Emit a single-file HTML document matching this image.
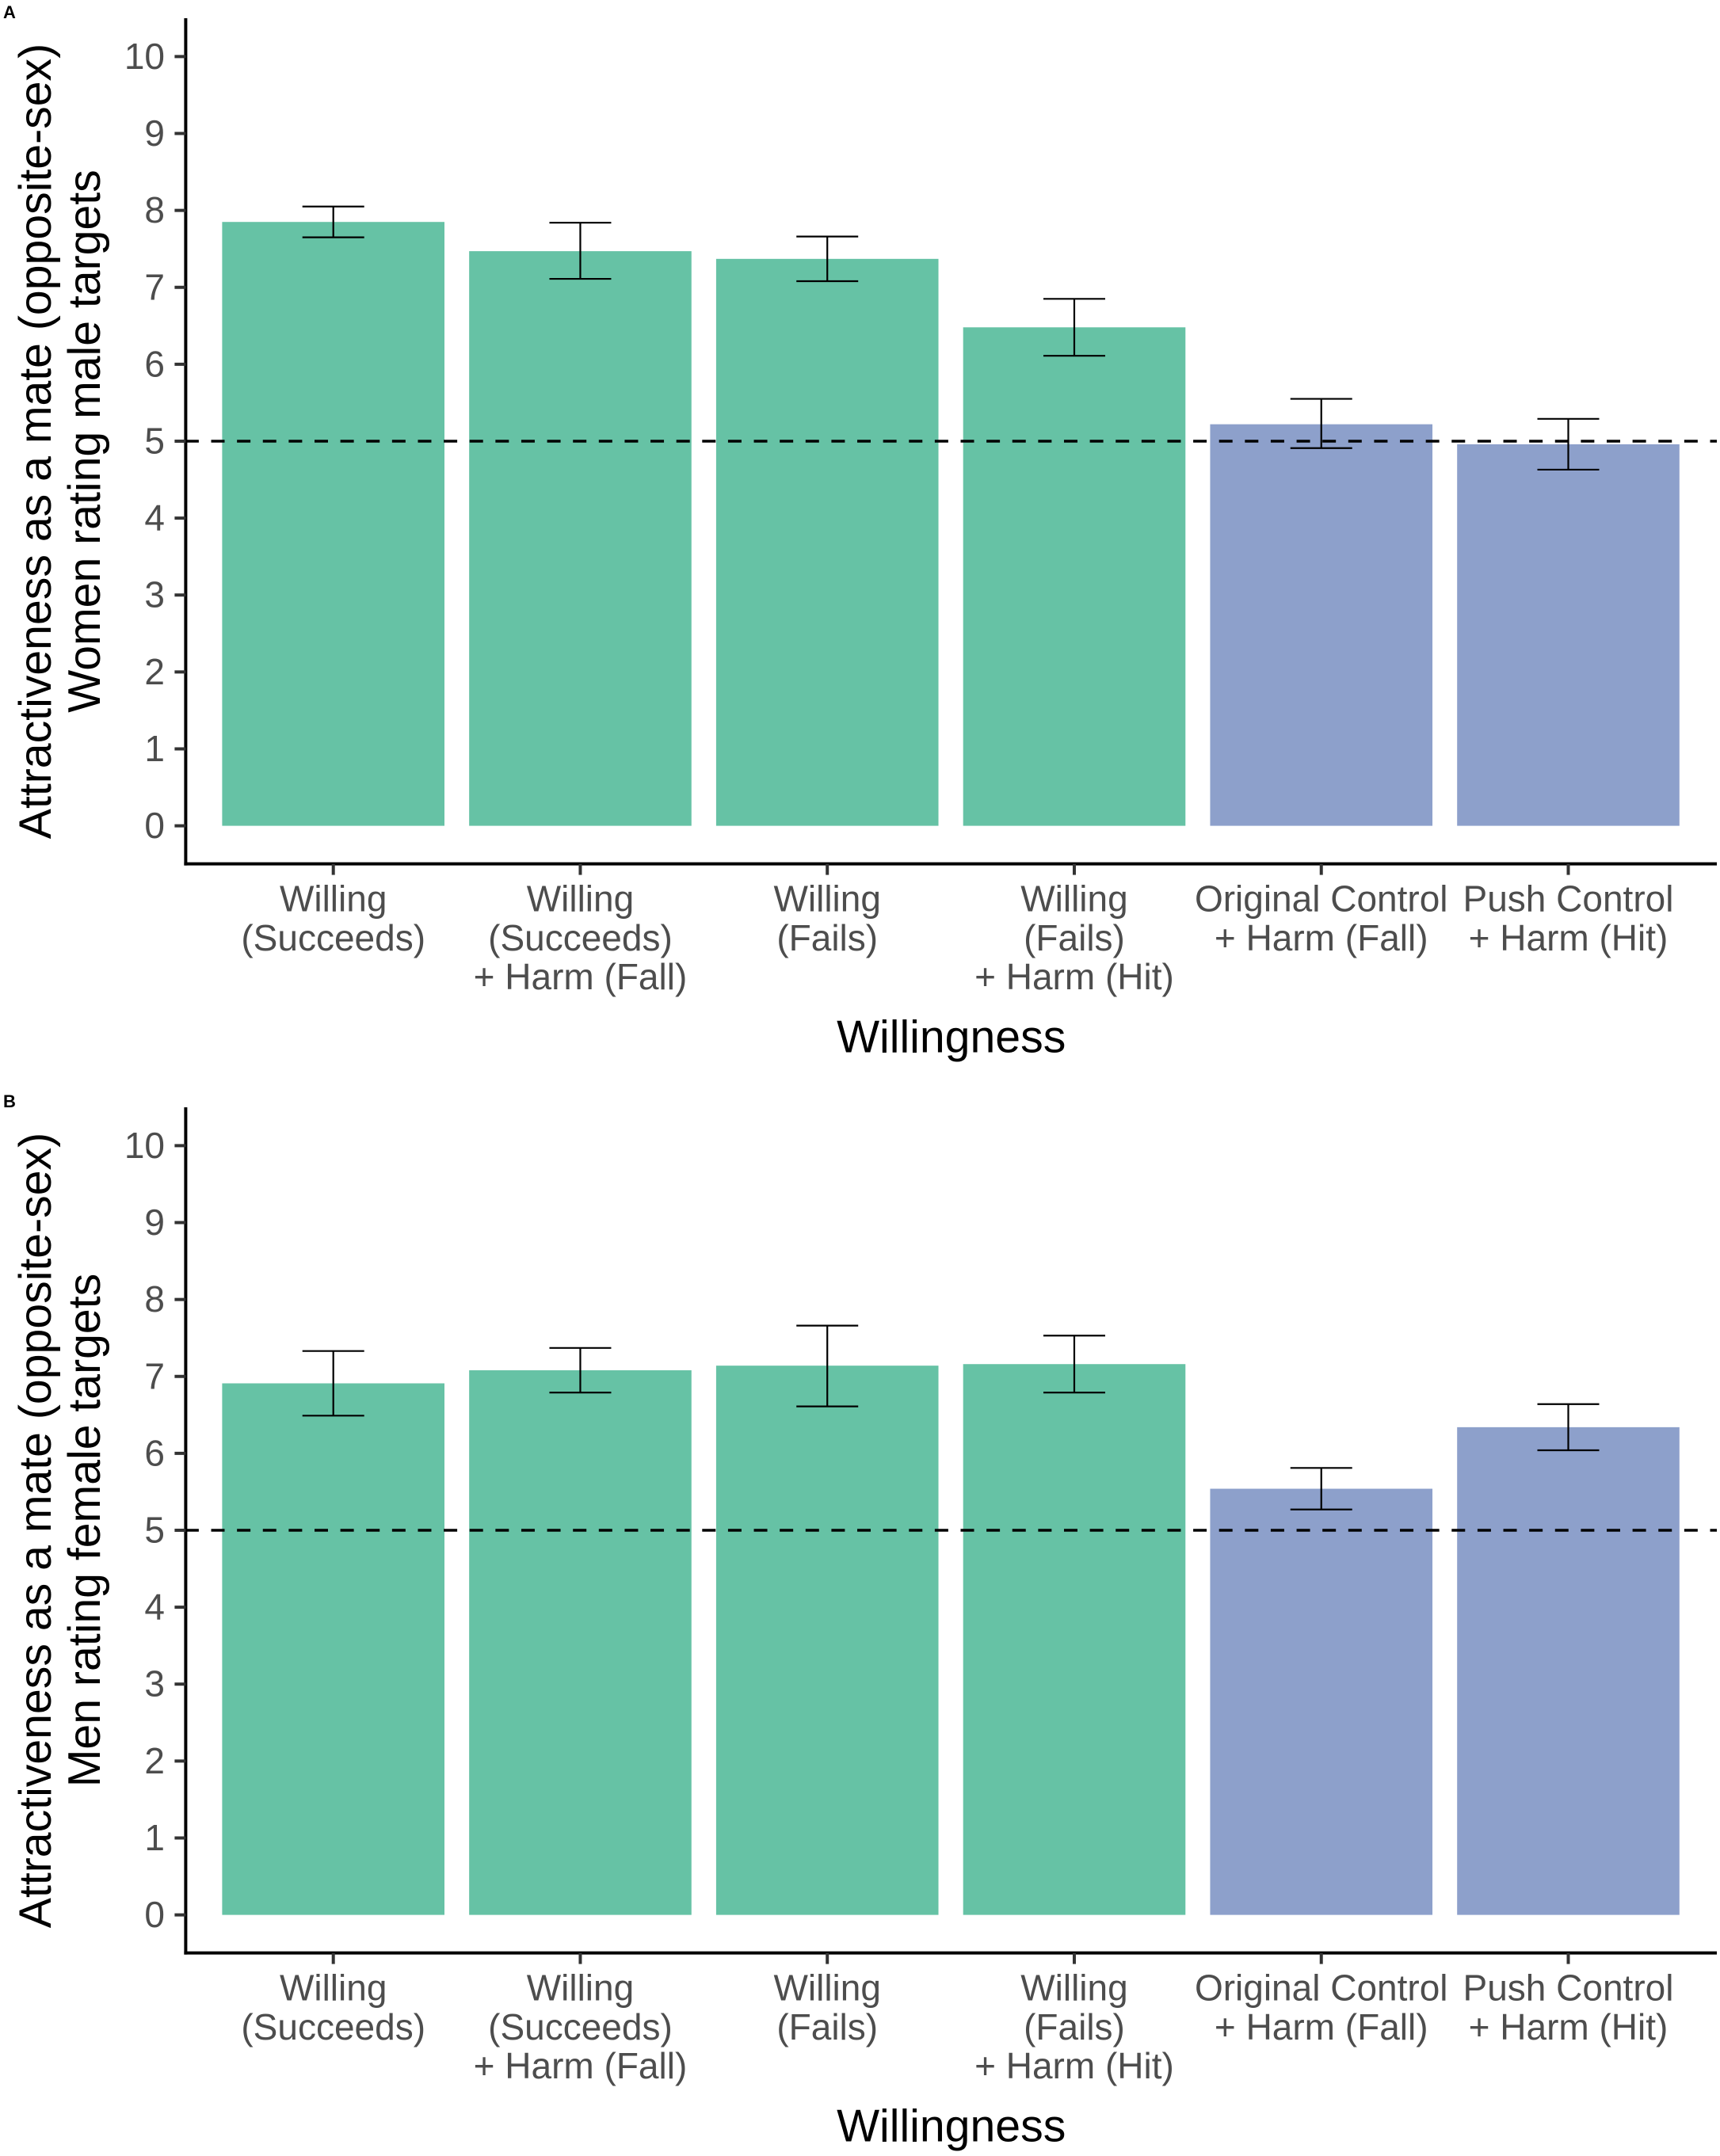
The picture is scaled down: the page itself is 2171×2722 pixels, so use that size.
<!DOCTYPE html>
<html lang="en">
<head>
<meta charset="utf-8">
<title>Attractiveness as a mate by willingness</title>
<style>
  html, body { margin: 0; padding: 0; background: #ffffff; }
  svg { display: block; }
  text { font-family: "Liberation Sans", Arial, sans-serif; }
  .tick-label { font-size: 46px; fill: #4d4d4d; }
  .axis-title { font-size: 57.2px; fill: #000000; }
  .panel-tag { font-size: 22px; font-weight: bold; fill: #000000; }
</style>
</head>
<body>
<svg id="figure" xmlns="http://www.w3.org/2000/svg" width="2171" height="2722" viewBox="0 0 2171 2722">
  <rect x="0" y="0" width="2171" height="2722" fill="#ffffff"/>
  <g id="panel-a"></g>
  <g id="panel-b"></g>
</svg>
<script>
// ---- chart data ----
const categories = [
  ["Willing", "(Succeeds)"],
  ["Willing", "(Succeeds)", "+ Harm (Fall)"],
  ["Willing", "(Fails)"],
  ["Willing", "(Fails)", "+ Harm (Hit)"],
  ["Original Control", "+ Harm (Fall)"],
  ["Push Control", "+ Harm (Hit)"]
];
const groups = ["willing", "willing", "willing", "willing", "control", "control"];
const yTicks = [0, 1, 2, 3, 4, 5, 6, 7, 8, 9, 10];
const referenceValue = 5;
const xTitle = "Willingness";

const panelAMeans = [7.85, 7.47, 7.37, 6.48, 5.22, 4.96];
const panelALower = [7.65, 7.11, 7.08, 6.11, 4.91, 4.63];
const panelAUpper = [8.05, 7.84, 7.66, 6.85, 5.55, 5.29];
const panelAYTitle = ["Attractiveness as a mate (opposite-sex)", "Women rating male targets"];

const panelBMeans = [6.91, 7.08, 7.14, 7.16, 5.54, 6.34];
const panelBLower = [6.49, 6.79, 6.61, 6.79, 5.27, 6.04];
const panelBUpper = [7.33, 7.37, 7.66, 7.53, 5.81, 6.64];
const panelBYTitle = ["Attractiveness as a mate (opposite-sex)", "Men rating female targets"];

// ---- layout ----
const NS = "http://www.w3.org/2000/svg";
const colours = { willing: "#66c2a5", control: "#8da0cb" };
const axisLeft = 234.4, axisRight = 2167;
const firstCentre = 420.7, step = 311.76, barWidth = 280.6, capHalf = 39;
const unit = 97.12;

function make(parent, tag, attrs, content) {
  const el = document.createElementNS(NS, tag);
  for (const k in attrs) el.setAttribute(k, attrs[k]);
  if (content !== undefined) el.textContent = content;
  parent.appendChild(el);
  return el;
}

function drawPanel(rootId, zeroY, tag, means, lower, upper, yTitle) {
  const root = document.getElementById(rootId);
  const xPos = i => firstCentre + step * i;
  const yPos = v => zeroY - unit * v;
  const axisBottom = zeroY + 48;
  const axisTop = zeroY - 1019.6;

  const tagEl = make(root, "text", { x: 4, y: zeroY - 1019.6, class: "panel-tag" }, tag);
  
  

  // bars
  means.forEach((m, i) => {
    const bar = make(root, "rect", {
      x: xPos(i) - barWidth / 2, y: yPos(m), width: barWidth, height: zeroY - yPos(m),
      fill: colours[groups[i]]
    });
    
    
  });

  // error bars
  means.forEach((m, i) => {
    const g = make(root, "g", { stroke: "#000000", "stroke-width": 2.2, fill: "none" });
    
    
    const x = xPos(i), yl = yPos(lower[i]), yu = yPos(upper[i]);
    make(g, "line", { x1: x, x2: x, y1: yu, y2: yl });
    make(g, "line", { x1: x - capHalf, x2: x + capHalf, y1: yu, y2: yu });
    make(g, "line", { x1: x - capHalf, x2: x + capHalf, y1: yl, y2: yl });
  });

  // reference line
  const ref = make(root, "line", {
    x1: axisLeft - 0.5, x2: axisRight, y1: yPos(referenceValue), y2: yPos(referenceValue),
    stroke: "#000000", "stroke-width": 3.6, "stroke-dasharray": "17 15.62"
  });
  
  

  // y axis
  const yAxis = make(root, "line", {
    x1: axisLeft, x2: axisLeft, y1: axisTop, y2: axisBottom + 2, stroke: "#000000", "stroke-width": 4
  });
  
  

  yTicks.forEach(t => {
    const mark = make(root, "line", {
      x1: axisLeft - 14, x2: axisLeft, y1: yPos(t), y2: yPos(t), stroke: "#333333", "stroke-width": 4
    });
    
    
    const label = make(root, "text", {
      x: 208, y: yPos(t) + 15.5, "text-anchor": "end", class: "tick-label"
    }, String(t));
    
    
  });

  // x axis
  const xAxis = make(root, "line", {
    x1: axisLeft - 2, x2: axisRight, y1: axisBottom, y2: axisBottom, stroke: "#000000", "stroke-width": 4
  });
  
  

  categories.forEach((lines, i) => {
    const mark = make(root, "line", {
      x1: xPos(i), x2: xPos(i), y1: axisBottom, y2: axisBottom + 14, stroke: "#333333", "stroke-width": 4
    });
    
    
    lines.forEach((line, j) => {
      const label = make(root, "text", {
        x: xPos(i), y: axisBottom + 60 + 49.3 * j, "text-anchor": "middle", class: "tick-label"
      }, line);
      
      
    });
  });

  // axis titles
  const xT = make(root, "text", {
    x: (axisLeft + axisRight) / 2, y: axisBottom + 238, "text-anchor": "middle", class: "axis-title"
  }, xTitle);
  
  

  const yCentre = yPos(referenceValue);
  yTitle.forEach((line, j) => {
    const bx = 64 + 62 * j;
    const yT = make(root, "text", {
      x: 0, y: 0, transform: "translate(" + bx + " " + yCentre + ") rotate(-90)",
      "text-anchor": "middle", class: "axis-title"
    }, line);
    
    
  });
}

drawPanel("panel-a", 1042.6, "A", panelAMeans, panelALower, panelAUpper, panelAYTitle);
drawPanel("panel-b", 2417.6, "B", panelBMeans, panelBLower, panelBUpper, panelBYTitle);
</script>
</body>
</html>
